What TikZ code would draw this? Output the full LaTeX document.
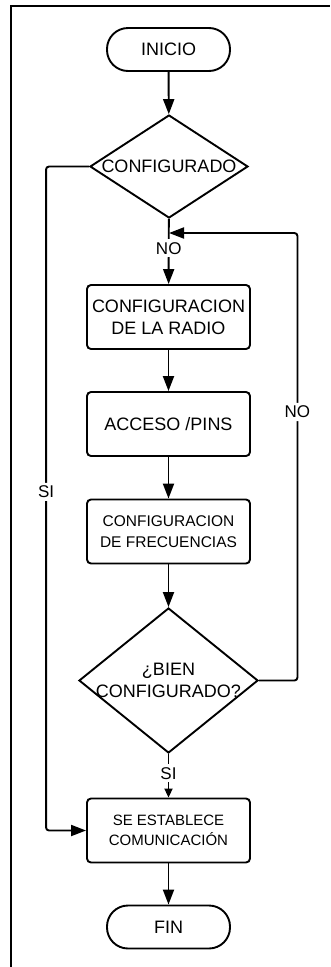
\documentclass[tikz,border=0pt]{standalone}
\usepackage{fontspec}
\setmainfont{Liberation Sans}
\usetikzlibrary{arrows.meta,shapes.geometric}

\tikzset{
  linea/.style={line width=1.9pt},
  flecha/.style={linea, -{Triangle[length=15pt,width=11pt]}},
  flechita/.style={linea, -{Triangle[length=9pt,width=8pt]}},
  terminal/.style={draw, linea, rectangle, rounded corners=21pt,
    minimum width=123pt, minimum height=43pt, font=\fontsize{18}{22}\selectfont},
  proceso/.style={draw, linea, rectangle, rounded corners=4pt, align=center,
    minimum width=163pt, minimum height=64pt, font=\fontsize{18}{22}\selectfont},
  decision/.style={draw, linea, diamond, inner sep=0pt, align=center,
    font=\fontsize{18}{22}\selectfont},
  etiqueta/.style={fill=white, inner sep=3pt, font=\fontsize{17}{20}\selectfont},
}

\begin{document}
\begin{tikzpicture}[x=1pt, y=-1pt]
    \useasboundingbox (0,0) rectangle (330,967);
    % marco
    \draw[line width=2pt] (11,967) -- (11,6) -- (330,6);
    % nodos
    \node[terminal] (inicio) at (168.5,49.5) {INICIO};
    \node[decision, minimum width=158pt, minimum height=103pt] (conf) at (169,166.5)
        {\makebox[0pt]{CONFIGURADO}};
    \node[proceso] (radio) at (168.5,317) {CONFIGURACION\\DE LA RADIO};
    \node[proceso] (pins) at (168.5,424) {ACCESO /PINS};
    \node[proceso, font=\fontsize{15.5}{21}\selectfont] (frec) at (168.5,531.5)
        {CONFIGURACION\\DE FRECUENCIAS};
    \node[decision, minimum width=179pt, minimum height=145pt] (bien) at (168.5,680.5)
        {\makebox[0pt]{¿BIEN}\\\makebox[0pt]{CONFIGURADO?}};
    \node[proceso, font=\fontsize{15}{20}\selectfont] (com) at (168.5,830.5)
        {SE ESTABLECE\\COMUNICACIÓN};
    \node[terminal] (fin) at (168.5,927) {FIN};
    \coordinate (retorno) at (169,233);
    % conectores
    \draw[flecha] (inicio) -- (conf);
    \draw[flecha] (conf) -- node[etiqueta, pos=0.45] {NO} (radio);
    \draw[flecha] (radio) -- (pins);
    \draw[flecha] (pins) -- (frec);
    \draw[flecha] (frec) -- (bien);
    \draw[flechita] (bien) -- node[etiqueta, pos=0.44] {SI} (com);
    \draw[flecha] (com) -- (fin);
    % lazo de vuelta y salto
    \draw[flecha, rounded corners=3pt] (bien.east) -- ++(38.5,0)
        |- node[etiqueta, pos=0.3] {NO} (retorno);
    \draw[flecha, rounded corners=3pt] (conf.west) -- ++(-43,0)
        |- node[etiqueta, pos=0.245] {SI} (com.west);
\end{tikzpicture}
\end{document}
